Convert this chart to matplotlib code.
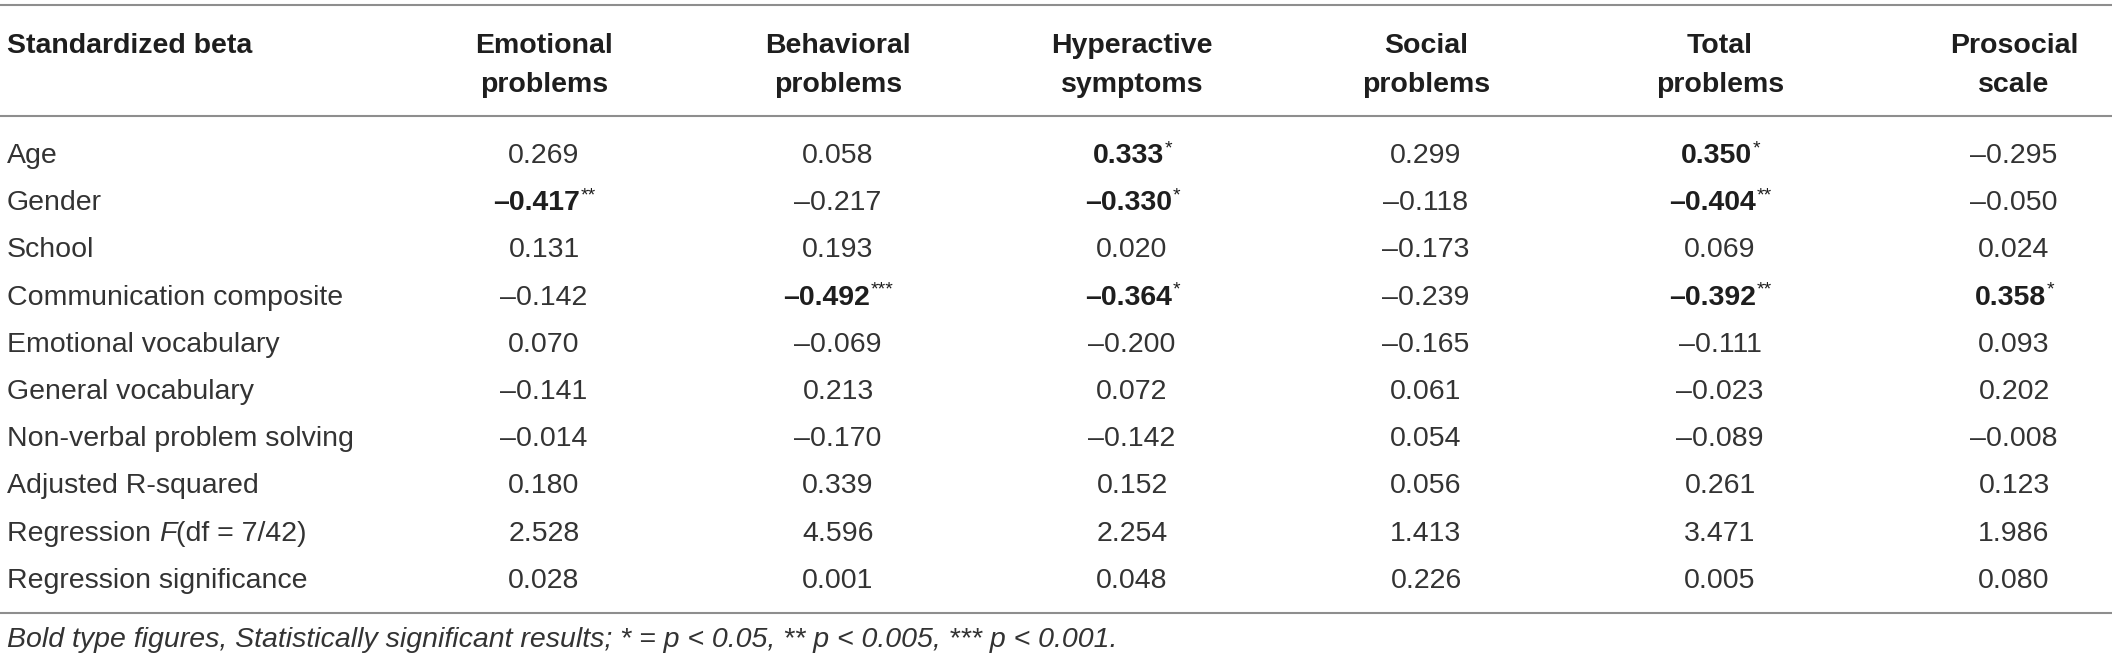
import matplotlib
matplotlib.use("Agg")
import matplotlib.pyplot as plt

# --- table content -------------------------------------------------------
row_labels = [
    "Age",
    "Gender",
    "School",
    "Communication composite",
    "Emotional vocabulary",
    "General vocabulary",
    "Non-verbal problem solving",
    "Adjusted R-squared",
    "Regression F(df = 7/42)",
    "Regression significance",
]
head_line1 = ["Emotional", "Behavioral", "Hyperactive", "Social", "Total", "Prosocial"]
head_line2 = ["problems", "problems", "symptoms", "problems", "problems", "scale"]

emotional = [0.269, -0.417, 0.131, -0.142, 0.070, -0.141, -0.014, 0.180, 2.528, 0.028]
behavioral = [0.058, -0.217, 0.193, -0.492, -0.069, 0.213, -0.170, 0.339, 4.596, 0.001]
hyperactive = [0.333, -0.330, 0.020, -0.364, -0.200, 0.072, -0.142, 0.152, 2.254, 0.048]
social = [0.299, -0.118, -0.173, -0.239, -0.165, 0.061, 0.054, 0.056, 1.413, 0.226]
total = [0.350, -0.404, 0.069, -0.392, -0.111, -0.023, -0.089, 0.261, 3.471, 0.005]
prosocial = [-0.295, -0.050, 0.024, 0.358, 0.093, 0.202, -0.008, 0.123, 1.986, 0.080]

stars_emotional = ["", "**", "", "", "", "", "", "", "", ""]
stars_behavioral = ["", "", "", "***", "", "", "", "", "", ""]
stars_hyperactive = ["*", "*", "", "*", "", "", "", "", "", ""]
stars_social = ["", "", "", "", "", "", "", "", "", ""]
stars_total = ["*", "**", "", "**", "", "", "", "", "", ""]
stars_prosocial = ["", "", "", "*", "", "", "", "", "", ""]

footnote = ("Bold type figures, Statistically significant results; "
            "* = p < 0.05, ** p < 0.005, *** p < 0.001.")

columns = [emotional, behavioral, hyperactive, social, total, prosocial]
stars = [stars_emotional, stars_behavioral, stars_hyperactive,
         stars_social, stars_total, stars_prosocial]

# --- layout (pixels) -----------------------------------------------------
W, H, DPI = 2118, 662, 100
FONT = "Liberation Sans"
FS = 20.5
TXT = "#333333"
DARK = "#1e1e1e"
RULE = "#8e8e8e"
col_x0, col_dx = 544, 294
row_y0, row_dy = 163, 47.2
left = 7


def fmt(v):
    s = f"{abs(v):.3f}"
    return "\u2013" + s if v < 0 else s


fig = plt.figure(figsize=(W / DPI, H / DPI), dpi=DPI)
ax = fig.add_axes([0, 0, 1, 1])
ax.set_xlim(0, W)
ax.set_ylim(H, 0)
ax.axis("off")
renderer = fig.canvas.get_renderer()


def width(t):
    return t.get_window_extent(renderer).width


# rules
for y in (5, 116, 613):
    ax.plot([0, 2112], [y, y], color=RULE, lw=1.5, solid_capstyle="butt")

# header
ax.text(left, 53, "Standardized beta", ha="left", va="baseline",
        fontsize=FS, fontweight="bold", family=FONT, color=DARK)
for j, (a, b) in enumerate(zip(head_line1, head_line2)):
    x = col_x0 + j * col_dx
    ax.text(x, 53, a, ha="center", va="baseline", fontsize=FS,
            fontweight="bold", family=FONT, color=DARK)
    ax.text(x, 92, b, ha="center", va="baseline", fontsize=FS,
            fontweight="bold", family=FONT, color=DARK)

# row labels
for i, lab in enumerate(row_labels):
    y = row_y0 + i * row_dy
    if lab.startswith("Regression F"):
        pieces = [("Regression ", "normal"), ("F", "italic"), ("(df = 7/42)", "normal")]
        x = left
        for s, style in pieces:
            t = ax.text(x, y, s, ha="left", va="baseline", fontsize=FS,
                        fontstyle=style, family=FONT, color=TXT)
            x += width(t)
    else:
        ax.text(left, y, lab, ha="left", va="baseline", fontsize=FS,
                family=FONT, color=TXT)

# values
for j, (vals, st) in enumerate(zip(columns, stars)):
    xc = col_x0 + j * col_dx
    for i, (v, s) in enumerate(zip(vals, st)):
        y = row_y0 + i * row_dy
        bold = s != ""
        t = ax.text(xc, y, fmt(v), ha="center", va="baseline", fontsize=FS,
                    fontweight="bold" if bold else "normal",
                    family=FONT, color=DARK if bold else TXT)
        if s:
            star = ax.text(0, y - 10, s, ha="left", va="baseline", fontsize=14,
                           family=FONT, color=DARK)
            ws = width(star)
            wt = width(t)
            t.set_x(xc - ws / 2)
            star.set_x(xc - ws / 2 + wt / 2 + 1)

# footnote
ax.text(left, 647, footnote, ha="left", va="baseline", fontsize=FS,
        fontstyle="italic", family=FONT, color=TXT)

fig.savefig("out.png", dpi=DPI)
